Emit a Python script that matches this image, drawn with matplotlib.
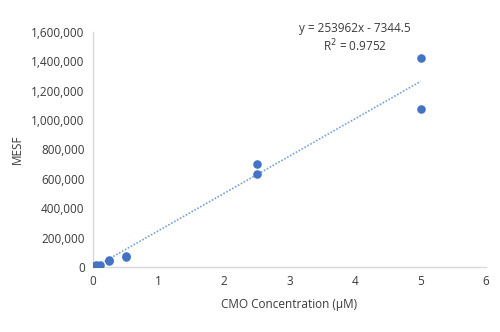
import numpy as np
import matplotlib
matplotlib.use('Agg')
import matplotlib.pyplot as plt
from matplotlib.ticker import FuncFormatter

# CMO concentration (uM) vs MESF
conc = [0, 0, 0.025, 0.05, 0.1, 0.25, 0.25, 0.5, 0.5, 2.5, 2.5, 5, 5]
mesf = [2000, 6000, 9000, 12000, 16000, 40000, 45000, 68000, 72000, 635000, 700000, 1075000, 1420000]

# trendline as printed on the chart
slope = 253962
intercept = -7344.5
r2 = 0.9752

plt.rcParams['font.family'] = ['Open Sans', 'DejaVu Sans']
txt = '#3a3a3a'

fig = plt.figure(figsize=(5, 3.32), dpi=100)
ax = fig.add_axes([0.186, 0.196, 0.786, 0.708])

ax.scatter(conc, mesf, s=38, color='#4472C4', zorder=3, linewidths=0)

xs = np.array([0, 5])
ax.plot(xs, slope * xs + intercept, linestyle=(0, (1, 1)), color='#7aa0d8',
        linewidth=1.2, zorder=2)

ax.text(0.667, 1.013, 'y = {}x - {}'.format(slope, -intercept), transform=ax.transAxes,
        ha='center', va='center', fontsize=8.5, color=txt)
ax.text(0.667, 0.94, 'R$^2$ = {}'.format(r2), transform=ax.transAxes,
        ha='center', va='center', fontsize=8.5, color=txt)

ax.set_xlim(0, 6)
ax.set_ylim(0, 1600000)
ax.set_xticks(range(0, 7))
ax.set_yticks(range(0, 1600001, 200000))
ax.yaxis.set_major_formatter(FuncFormatter(lambda v, p: '{:,.0f}'.format(v)))

for s in ['top', 'right']:
    ax.spines[s].set_visible(False)
for s in ['left', 'bottom']:
    ax.spines[s].set_color('#d9d9d9')
    ax.spines[s].set_linewidth(1)
ax.tick_params(length=0, labelsize=8.5, colors=txt, pad=6)

ax.set_xlabel('CMO Concentration (µM)', fontsize=8.5, color=txt, labelpad=7)
ax.set_ylabel('MESF', fontsize=8.5, color=txt, labelpad=5)

fig.savefig('out.png', dpi=100)
